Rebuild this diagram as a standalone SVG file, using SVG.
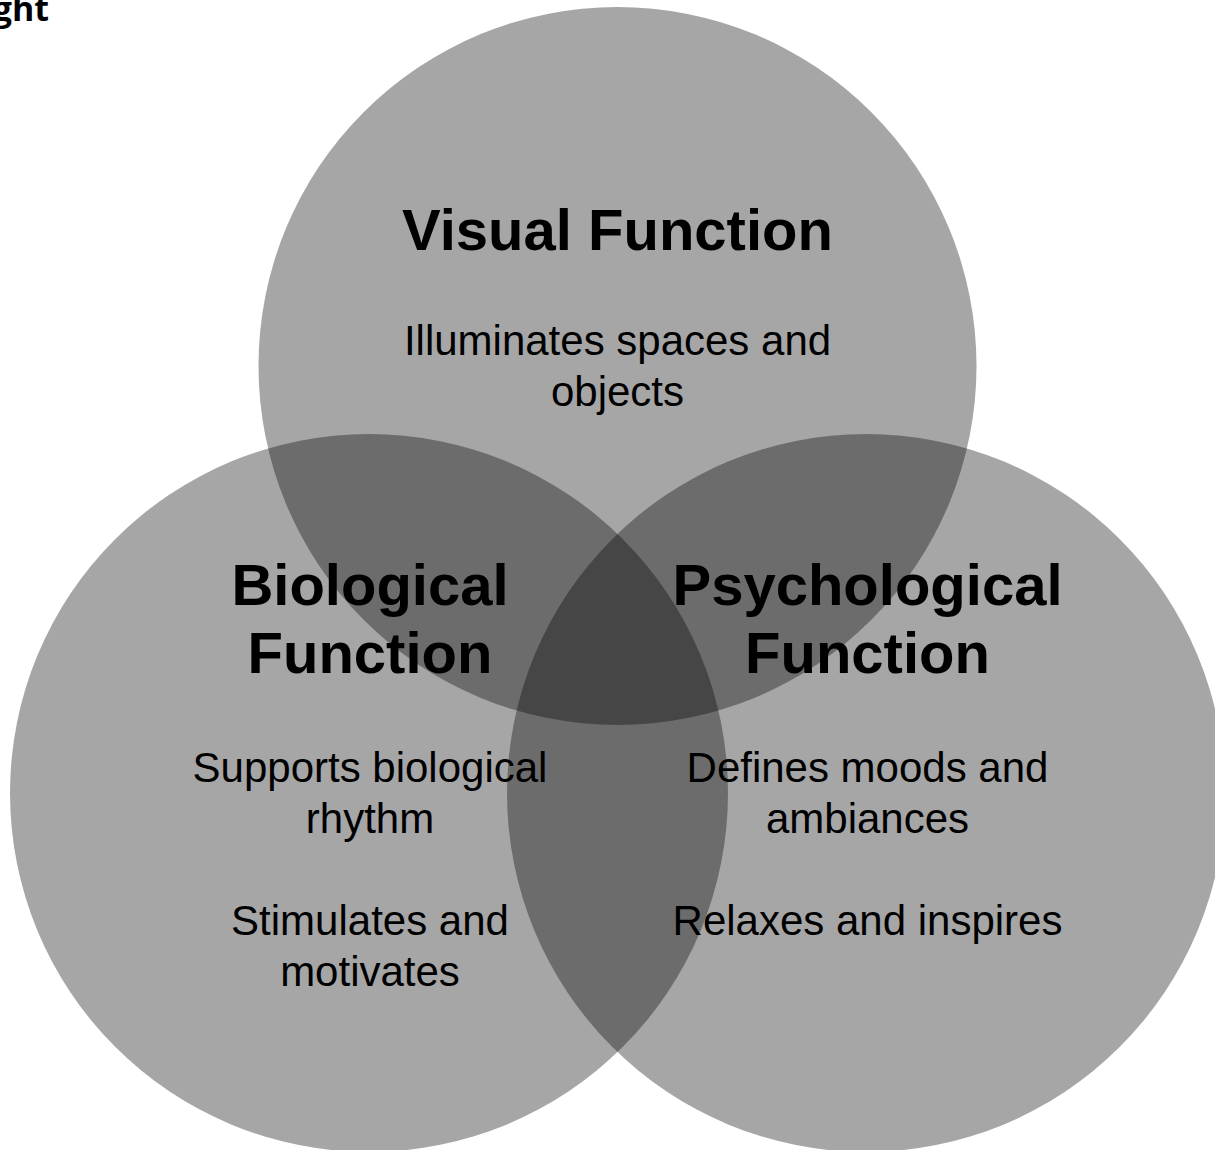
<svg xmlns="http://www.w3.org/2000/svg" width="1215" height="1150" viewBox="0 0 1215 1150">
  <style>
    .disc { fill: #000; fill-opacity: 0.35; }
    .head { font-family: "Liberation Sans", Arial, sans-serif; font-weight: bold; font-size: 58px; fill: #000; text-anchor: middle; }
    .body { font-family: "Liberation Sans", Arial, sans-serif; font-size: 42px; fill: #000; text-anchor: middle; }
    .title { font-family: "Open Sans", "Liberation Sans", sans-serif; font-weight: bold; font-size: 34px; fill: #000; }
  </style>
  <rect width="1215" height="1150" fill="#fff"/>
  <text class="title" x="49" y="21" text-anchor="end">ght</text>

  <!-- three overlapping translucent discs -->
  <g id="visual">
    <circle class="disc" cx="617.5" cy="366" r="359"/>
  </g>
  <g id="biological">
    <circle class="disc" cx="369" cy="793" r="359"/>
  </g>
  <g id="psychological">
    <circle class="disc" cx="866" cy="793" r="359"/>
  </g>
  <g id="connectors"/>

  <!-- labels -->
  <g id="visual-text">
    <text class="head" x="617.5" y="250">Visual Function</text>
    <text class="body" x="617.5" y="355">Illuminates spaces and</text>
    <text class="body" x="617.5" y="406">objects</text>
  </g>
  <g id="biological-text">
    <text class="head" x="370" y="605">Biological</text>
    <text class="head" x="370" y="673">Function</text>
    <text class="body" x="370" y="782">Supports biological</text>
    <text class="body" x="370" y="833">rhythm</text>
    <text class="body" x="370" y="935">Stimulates and</text>
    <text class="body" x="370" y="986">motivates</text>
  </g>
  <g id="psychological-text">
    <text class="head" x="867.5" y="605">Psychological</text>
    <text class="head" x="867.5" y="673">Function</text>
    <text class="body" x="867.5" y="782">Defines moods and</text>
    <text class="body" x="867.5" y="833">ambiances</text>
    <text class="body" x="867.5" y="935">Relaxes and inspires</text>
  </g>
</svg>
